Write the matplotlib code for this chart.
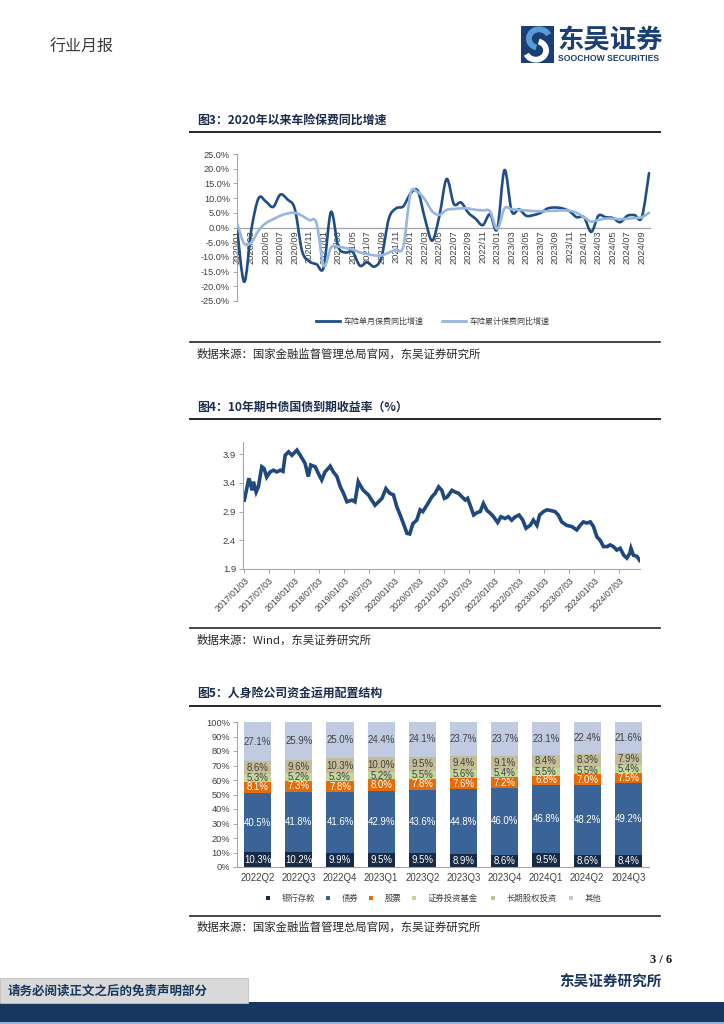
import matplotlib
matplotlib.use("Agg")
import matplotlib.pyplot as plt
import matplotlib.dates as mdates
from matplotlib.path import Path
from matplotlib.patches import PathPatch, Rectangle, Arc
from matplotlib.lines import Line2D
import numpy as np
import pandas as pd

CJK = ["Noto Sans CJK SC", "DejaVu Sans"]
LAT = ["Liberation Sans", "DejaVu Sans"]
plt.rcParams["font.family"] = CJK

# ---------------- Chart 3 data: 车险保费同比增速 (%) ----------------
fig3_months = list(pd.period_range("2020-01", "2024-10", freq="M").strftime("%Y/%m"))
fig3_single = [0.0, -18.5, -0.5, 10.0, 8.8, 7.0, 11.2, 9.5, 6.3, -8.0, -11.5, -12.5,
               -13.5, 5.3, -6.5, -8.5, -8.3, -13.0, -11.8, -13.3, -10.0, 3.0, 6.5, 7.2,
               11.5, 12.5, 3.0, -4.5, 4.0, 16.5, 8.0, 8.5, 5.0, 3.0, 0.8, 4.5,
               -0.5, 19.5, 5.5, 6.2, 4.0, 4.2, 5.0, 6.5, 6.8, 6.5, 5.5, 3.5,
               3.5, -1.5, 4.0, 3.5, 3.2, 1.8, 4.0, 4.2, 3.5, 18.5]
fig3_cum = [1.5, -5.5, -5.0, -1.0, 1.5, 2.8, 4.0, 4.8, 5.0, 4.0, 2.5, 1.5,
            -13.0, -6.8, -6.5, -7.0, -7.5, -8.5, -9.0, -9.5, -9.5, -8.5, -7.5, -6.5,
            11.5, 12.0, 9.5, 5.5, 4.3, 6.0, 6.3, 6.5, 6.5, 6.0, 5.8, 5.5,
            -0.5, 6.5, 6.2, 6.0, 5.8, 5.6, 5.5, 5.6, 5.7, 5.8, 5.7, 5.0,
            3.5, 2.0, 2.6, 3.0, 3.0, 2.8, 3.0, 3.2, 3.5, 5.0]
fig3_yticks = [-25, -20, -15, -10, -5, 0, 5, 10, 15, 20, 25]
fig3_legend = ["车险单月保费同比增速", "车险累计保费同比增速"]

# ---------------- Chart 4 data: 10年期中债国债到期收益率 (%) ----------------
fig4_dates = ["2017-01-03", "2017-02-05", "2017-03-01", "2017-03-10", "2017-03-30", "2017-04-15",
              "2017-05-10", "2017-05-27", "2017-06-15", "2017-07-10", "2017-08-03", "2017-08-28",
              "2017-09-22", "2017-10-12", "2017-10-28", "2017-11-22", "2017-12-16", "2018-01-22",
              "2018-02-15", "2018-03-22", "2018-04-15", "2018-05-03", "2018-06-05", "2018-06-28",
              "2018-07-22", "2018-08-15", "2018-09-22", "2018-10-15", "2018-11-10", "2018-12-05",
              "2018-12-28", "2019-01-22", "2019-02-28", "2019-03-22", "2019-04-15", "2019-04-28",
              "2019-05-22", "2019-06-28", "2019-07-22", "2019-08-15", "2019-09-10", "2019-10-05",
              "2019-11-03", "2019-11-30", "2019-12-28", "2020-01-22", "2020-02-15", "2020-03-10",
              "2020-04-05", "2020-04-25", "2020-05-18", "2020-06-15", "2020-07-10", "2020-07-30",
              "2020-08-28", "2020-10-05", "2020-10-28", "2020-11-22", "2020-12-15", "2021-01-03",
              "2021-01-22", "2021-02-28", "2021-03-22", "2021-04-15", "2021-05-10", "2021-06-05",
              "2021-06-22", "2021-07-15", "2021-08-05", "2021-08-28", "2021-09-22", "2021-10-15",
              "2021-11-10", "2021-12-05", "2021-12-28", "2022-01-27", "2022-02-20", "2022-03-22",
              "2022-04-15", "2022-05-10", "2022-06-05", "2022-07-03", "2022-07-30", "2022-08-22",
              "2022-09-22", "2022-10-15", "2022-11-10", "2022-11-30", "2022-12-28", "2023-01-22",
              "2023-02-15", "2023-03-22", "2023-04-15", "2023-05-10", "2023-06-15", "2023-07-22",
              "2023-08-28", "2023-09-22", "2023-10-15", "2023-11-10", "2023-12-05", "2023-12-28",
              "2024-01-22", "2024-02-15", "2024-03-10", "2024-04-05", "2024-04-28", "2024-05-22",
              "2024-06-15", "2024-07-10", "2024-08-05", "2024-08-28", "2024-09-18", "2024-09-27",
              "2024-10-15", "2024-11-10", "2024-11-29"]
fig4_yield = [3.10, 3.48, 3.27, 3.42, 3.24, 3.33,
              3.68, 3.65, 3.50, 3.59, 3.62, 3.59,
              3.62, 3.60, 3.88, 3.94, 3.88, 3.97,
              3.88, 3.74, 3.51, 3.71, 3.68, 3.56,
              3.45, 3.59, 3.69, 3.59, 3.51, 3.33,
              3.22, 3.07, 3.10, 3.07, 3.42, 3.36,
              3.27, 3.19, 3.10, 3.01, 3.07, 3.13,
              3.30, 3.22, 3.19, 2.98, 2.84, 2.69,
              2.52, 2.51, 2.69, 2.75, 2.93, 2.90,
              3.01, 3.16, 3.22, 3.33, 3.27, 3.13,
              3.15, 3.27, 3.24, 3.22, 3.16, 3.10,
              3.13, 2.98, 2.84, 2.88, 2.90, 3.04,
              2.92, 2.87, 2.81, 2.71, 2.81, 2.78,
              2.81, 2.75, 2.81, 2.84, 2.75, 2.61,
              2.66, 2.75, 2.66, 2.84, 2.90, 2.93,
              2.92, 2.90, 2.84, 2.72, 2.66, 2.64,
              2.58, 2.66, 2.72, 2.70, 2.72, 2.64,
              2.46, 2.40, 2.29, 2.29, 2.32, 2.29,
              2.23, 2.26, 2.14, 2.09, 2.17, 2.26,
              2.14, 2.12, 2.05]
fig4_xticks = ["2017/01/03", "2017/07/03", "2018/01/03", "2018/07/03", "2019/01/03", "2019/07/03",
               "2020/01/03", "2020/07/03", "2021/01/03", "2021/07/03", "2022/01/03", "2022/07/03",
               "2023/01/03", "2023/07/03", "2024/01/03", "2024/07/03"]
fig4_yticks = [1.9, 2.4, 2.9, 3.4, 3.9]

# ---------------- Chart 5 data: 人身险公司资金运用配置结构 (%) ----------------
fig5_quarters = ["2022Q2", "2022Q3", "2022Q4", "2023Q1", "2023Q2", "2023Q3",
                 "2023Q4", "2024Q1", "2024Q2", "2024Q3"]
fig5_names = ["银行存款", "债券", "股票", "证券投资基金", "长期股权投资", "其他"]
fig5_bank = [10.3, 10.2, 9.9, 9.5, 9.5, 8.9, 8.6, 9.5, 8.6, 8.4]
fig5_bond = [40.5, 41.8, 41.6, 42.9, 43.6, 44.8, 46.0, 46.8, 48.2, 49.2]
fig5_stock = [8.1, 7.3, 7.8, 8.0, 7.8, 7.6, 7.2, 6.8, 7.0, 7.5]
fig5_fund = [5.3, 5.2, 5.3, 5.2, 5.5, 5.6, 5.4, 5.5, 5.5, 5.4]
fig5_equity = [8.6, 9.6, 10.3, 10.0, 9.5, 9.4, 9.1, 8.4, 8.3, 7.9]
fig5_other = [27.1, 25.9, 25.0, 24.4, 24.1, 23.7, 23.7, 23.1, 22.4, 21.6]
fig5_yticks = [0, 10, 20, 30, 40, 50, 60, 70, 80, 90, 100]

# ---------------- page helpers ----------------
W, H = 724, 1024
fig = plt.figure(figsize=(7.24, 10.24), dpi=100)
fig.patch.set_facecolor("white")
NAVY = "#17375e"
GRAY_AX = "#a6a6a6"
TXT = "#404040"


def axes_px(x0, y0, x1, y1, **kw):
    return fig.add_axes([x0 / W, 1 - y1 / H, (x1 - x0) / W, (y1 - y0) / H], **kw)


def ftext(x, y, s, **kw):
    return fig.text(x / W, 1 - y / H, s, **kw)


def hline(x0, x1, y, lw=1.2, color="#262626"):
    fig.add_artist(Line2D([x0 / W, x1 / W], [1 - y / H, 1 - y / H], lw=lw, color=color,
                          transform=fig.transFigure))


def frect(x0, y0, x1, y1, **kw):
    fig.add_artist(Rectangle((x0 / W, 1 - y1 / H), (x1 - x0) / W, (y1 - y0) / H,
                             transform=fig.transFigure, **kw))


def smooth_path(xs, ys):
    pts = np.column_stack([np.asarray(xs, float), np.asarray(ys, float)])
    n = len(pts)
    verts = [pts[0]]
    codes = [Path.MOVETO]
    for i in range(n - 1):
        p0 = pts[i - 1] if i > 0 else pts[i]
        p1, p2 = pts[i], pts[i + 1]
        p3 = pts[i + 2] if i + 2 < n else pts[i + 1]
        verts += [p1 + (p2 - p0) / 6.0, p2 - (p3 - p1) / 6.0, p2]
        codes += [Path.CURVE4] * 3
    return Path(verts, codes)


# ---------------- header ----------------
ftext(50, 47, "行业月报", fontsize=11.5, color="#3a3a3a", va="center", ha="left")
logo = axes_px(521, 26, 554, 63)
logo.set_xlim(0, 1)
logo.set_ylim(0, 1)
logo.axis("off")
logo.add_patch(Rectangle((0, 0), 1, 1, color="#1b3f74"))
logo.add_patch(Arc((0.55, 0.66), 0.62, 0.5, theta1=20, theta2=250, lw=4.2, color="#5b9bd5"))
logo.add_patch(Arc((0.45, 0.34), 0.62, 0.5, theta1=200, theta2=430, lw=4.2, color="white"))
ftext(557, 41, "东吴证券", fontsize=19, color="#1b3f74", va="center", ha="left", fontweight="bold")
ftext(558, 58.5, "SOOCHOW SECURITIES", fontsize=6.2, color="#1b3f74", va="center", ha="left",
      fontweight="bold", family=LAT)

# ---------------- Chart 3 ----------------
ftext(197, 120, "图3：2020年以来车险保费同比增速", fontsize=8.6, fontweight="bold",
      color="#1a2b4c", va="center", ha="left")
hline(190, 660, 132, lw=1.4)

ax3 = axes_px(237, 154, 650.5, 301)
x3 = np.arange(len(fig3_months))
ax3.set_xlim(0, len(fig3_months) - 0.8)
ax3.set_ylim(-25, 25)
for s in ["top", "right", "bottom"]:
    ax3.spines[s].set_visible(False)
ax3.spines["left"].set_color(GRAY_AX)
ax3.spines["left"].set_linewidth(0.8)
ax3.axhline(0, color=GRAY_AX, lw=0.9, zorder=1)
ax3.set_yticks(fig3_yticks)
ax3.set_yticklabels([f"{v:.1f}%" for v in fig3_yticks], family=LAT, fontsize=6.6, color=TXT)
ax3.tick_params(axis="y", length=3, width=0.7, color=GRAY_AX, pad=2)
ax3.set_xticks([])
ax3.add_patch(PathPatch(smooth_path(x3, fig3_single), fill=False, lw=1.9, edgecolor="#1f4e87",
                        joinstyle="round", capstyle="round", zorder=3))
ax3.add_patch(PathPatch(smooth_path(x3, fig3_cum), fill=False, lw=1.9, edgecolor="#96b7df",
                        joinstyle="round", capstyle="round", zorder=4))
for i in range(0, len(fig3_months), 2):
    ax3.text(i, -0.9, fig3_months[i], rotation=90, ha="center", va="top", fontsize=6.7,
             family=LAT, color=TXT, zorder=2)

fig.add_artist(Line2D([316 / W, 340 / W], [1 - 321 / H] * 2, lw=2.0, color="#1f4e87"))
ftext(343, 321, fig3_legend[0], fontsize=5.8, color=TXT, va="center", ha="left")
fig.add_artist(Line2D([442 / W, 466 / W], [1 - 321 / H] * 2, lw=2.0, color="#96b7df"))
ftext(469, 321, fig3_legend[1], fontsize=5.8, color=TXT, va="center", ha="left")

hline(190, 660, 342, lw=1.2)
ftext(197, 354, "数据来源：国家金融监督管理总局官网，东吴证券研究所", fontsize=8.2,
      color="#262626", va="center", ha="left")

# ---------------- Chart 4 ----------------
ftext(197, 407, "图4：10年期中债国债到期收益率（%）", fontsize=8.6, fontweight="bold",
      color="#1a2b4c", va="center", ha="left")
hline(190, 660, 419, lw=1.4)

ax4 = axes_px(243, 441.5, 640, 569)
d4 = pd.to_datetime(fig4_dates)
ax4.plot(d4, fig4_yield, color="#1f497d", lw=2.6, solid_joinstyle="miter")
ax4.set_xlim(pd.Timestamp("2016-12-24"), pd.Timestamp("2024-12-02"))
ax4.set_ylim(1.9, 4.12)
for s in ["top", "right"]:
    ax4.spines[s].set_visible(False)
for s in ["left", "bottom"]:
    ax4.spines[s].set_color(GRAY_AX)
    ax4.spines[s].set_linewidth(0.8)
ax4.set_yticks(fig4_yticks)
ax4.set_yticklabels([f"{v:.1f}" for v in fig4_yticks], family=LAT, fontsize=6.8, color=TXT)
ax4.set_xticks(pd.to_datetime(fig4_xticks, format="%Y/%m/%d"))
ax4.set_xticklabels(fig4_xticks, rotation=45, ha="right", rotation_mode="anchor",
                    family=LAT, fontsize=6.3, color=TXT)
ax4.tick_params(axis="both", length=3, width=0.7, color=GRAY_AX, pad=2)

hline(190, 660, 628, lw=1.2)
ftext(197, 640, "数据来源：Wind，东吴证券研究所", fontsize=8.2, color="#262626",
      va="center", ha="left")

# ---------------- Chart 5 ----------------
ftext(197, 693, "图5：人身险公司资金运用配置结构", fontsize=8.6, fontweight="bold",
      color="#1a2b4c", va="center", ha="left")
hline(190, 660, 706, lw=1.4)

ax5 = axes_px(237, 722, 649, 867)
series5 = [fig5_bank, fig5_bond, fig5_stock, fig5_fund, fig5_equity, fig5_other]
colors5 = ["#172a46", "#3a6497", "#e46c0a", "#c3d69b", "#c4bd97", "#c0cbe2"]
txtc5 = ["white", "white", "white", TXT, TXT, TXT]
xs5 = np.arange(len(fig5_quarters))
bottom = np.zeros(len(fig5_quarters))
for vals, col, tc in zip(series5, colors5, txtc5):
    vals = np.asarray(vals)
    ax5.bar(xs5, vals, width=0.665, bottom=bottom, color=col, edgecolor="none", zorder=2)
    for xi, b, v in zip(xs5, bottom, vals):
        ax5.text(xi, b + v / 2, f"{v:.1f}%", ha="center", va="center", fontsize=6.9,
                 family=LAT, color=tc, zorder=3)
    bottom = bottom + vals
ax5.set_xlim(-0.5, len(fig5_quarters) - 0.5)
ax5.set_ylim(0, 100)
for s in ["top", "right"]:
    ax5.spines[s].set_visible(False)
for s in ["left", "bottom"]:
    ax5.spines[s].set_color(GRAY_AX)
    ax5.spines[s].set_linewidth(0.8)
ax5.set_yticks(fig5_yticks)
ax5.set_yticklabels([f"{v}%" for v in fig5_yticks], family=LAT, fontsize=6.7, color=TXT)
ax5.tick_params(axis="y", length=3, width=0.7, color=GRAY_AX, pad=2)
ax5.set_xticks(xs5)
ax5.set_xticklabels(fig5_quarters, family=LAT, fontsize=6.9, color=TXT)
ax5.tick_params(axis="x", length=0, pad=4)

leg_text_x = [282, 342, 385, 428, 507, 585]
for name, col, tx in zip(fig5_names, colors5, leg_text_x):
    frect(tx - 16, 896, tx - 12, 900, color=col, lw=0)
    ftext(tx, 898, name, fontsize=6.0, color=TXT, va="center", ha="left")

hline(190, 660, 916, lw=1.2)
ftext(197, 927, "数据来源：国家金融监督管理总局官网，东吴证券研究所", fontsize=8.2,
      color="#262626", va="center", ha="left")

# ---------------- footer ----------------
ftext(672, 960, "3 / 6", fontsize=9, fontweight="bold", color="#1a1a1a", va="center",
      ha="right", family=["Liberation Serif", "DejaVu Serif"])
ftext(662, 982, "东吴证券研究所", fontsize=10.5, fontweight="bold", color=NAVY,
      va="center", ha="right")
frect(0, 1002, 724, 1022, color=NAVY, lw=0)
frect(0, 1022, 724, 1024, color="#8db3e2", lw=0)
frect(0, 978, 248, 1003, facecolor="#d9d9d9", edgecolor="#bfbfbf", lw=0.6)
ftext(8, 991, "请务必阅读正文之后的免责声明部分", fontsize=9, fontweight="bold", color=NAVY,
      va="center", ha="left")

fig.savefig("out.png", dpi=100, facecolor="white")
